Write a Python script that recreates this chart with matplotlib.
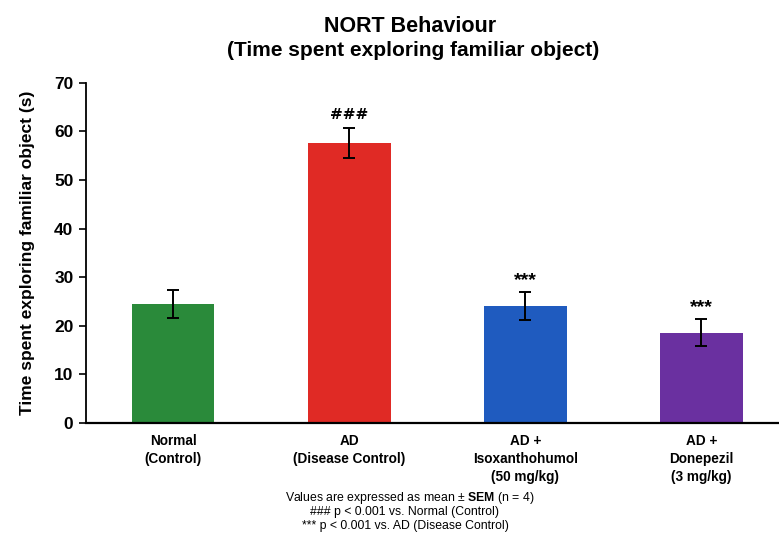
import matplotlib.pyplot as plt

plt.rcParams['font.family'] = ['Liberation Sans', 'DejaVu Sans']
plt.rcParams['mathtext.fontset'] = 'custom'
plt.rcParams['mathtext.bf'] = 'Liberation Sans:bold'
plt.rcParams['mathtext.rm'] = 'Liberation Sans'

groups = ["Normal\n(Control)", "AD\n(Disease Control)",
          "AD +\nIsoxanthohumol\n(50 mg/kg)", "AD +\nDonepezil\n(3 mg/kg)"]
means = [24.4, 57.6, 24.1, 18.6]
sem = [2.9, 3.1, 2.9, 2.85]
marks = ["", "###", "***", "***"]
colors = ["#2a8a3a", "#e02a25", "#1f5bbf", "#6a30a0"]

fig = plt.figure(figsize=(7.79, 5.34), dpi=100)
ax = fig.add_axes([86 / 779, 1 - 423 / 534, (779 - 86) / 779, (423 - 82.7) / 534])

x = list(range(len(groups)))
ax.bar(x, means, width=0.47, color=colors, yerr=sem,
       error_kw=dict(ecolor="black", elinewidth=1.4, capsize=4, capthick=1.4))

for xi, m, s, t in zip(x, means, sem, marks):
    if t == "###":
        ax.text(xi, m + s + 1.2, t, ha="center", va="bottom", fontsize=11,
                fontweight="bold", family="DejaVu Serif")
    elif t:
        ax.text(xi, m + s + 0.6, t, ha="center", va="bottom", fontsize=14,
                fontweight="bold")

ax.set_xlim(-0.494, 3.44)
ax.set_ylim(0, 70)
ax.set_yticks(range(0, 71, 10))
ax.set_xticks(x)
ax.set_xticklabels(groups, fontsize=9.8, fontweight="bold", linespacing=1.35)
ax.tick_params(axis="x", length=0, pad=8)
ax.tick_params(axis="y", labelsize=12.5, length=5, width=1.2, direction="out", pad=4)
for lab in ax.get_yticklabels():
    lab.set_fontweight("bold")
ax.spines["top"].set_visible(False)
ax.spines["right"].set_visible(False)
ax.spines["left"].set_linewidth(1.3)
ax.spines["bottom"].set_linewidth(1.6)
ax.set_ylabel("Time spent exploring familiar object (s)", fontsize=12.5,
              fontweight="bold", labelpad=14)

fig.text(410 / 779, 1 - 26 / 534, "NORT Behaviour", ha="center", va="center",
         fontsize=15.5, fontweight="bold")
fig.text(413 / 779, 1 - 50 / 534, "(Time spent exploring familiar object)",
         ha="center", va="center", fontsize=15, fontweight="bold")

fig.text(410 / 779, 1 - 498 / 534, r"Values are expressed as mean $\pm$ $\mathbf{SEM}$ (n = 4)",
         ha="center", va="center", fontsize=8.8)
fig.text(405 / 779, 1 - 512 / 534, "### p < 0.001 vs. Normal (Control)",
         ha="center", va="center", fontsize=8.8)
fig.text(405 / 779, 1 - 526 / 534, "*** p < 0.001 vs. AD (Disease Control)",
         ha="center", va="center", fontsize=8.8)

fig.savefig("out.png", dpi=100)
